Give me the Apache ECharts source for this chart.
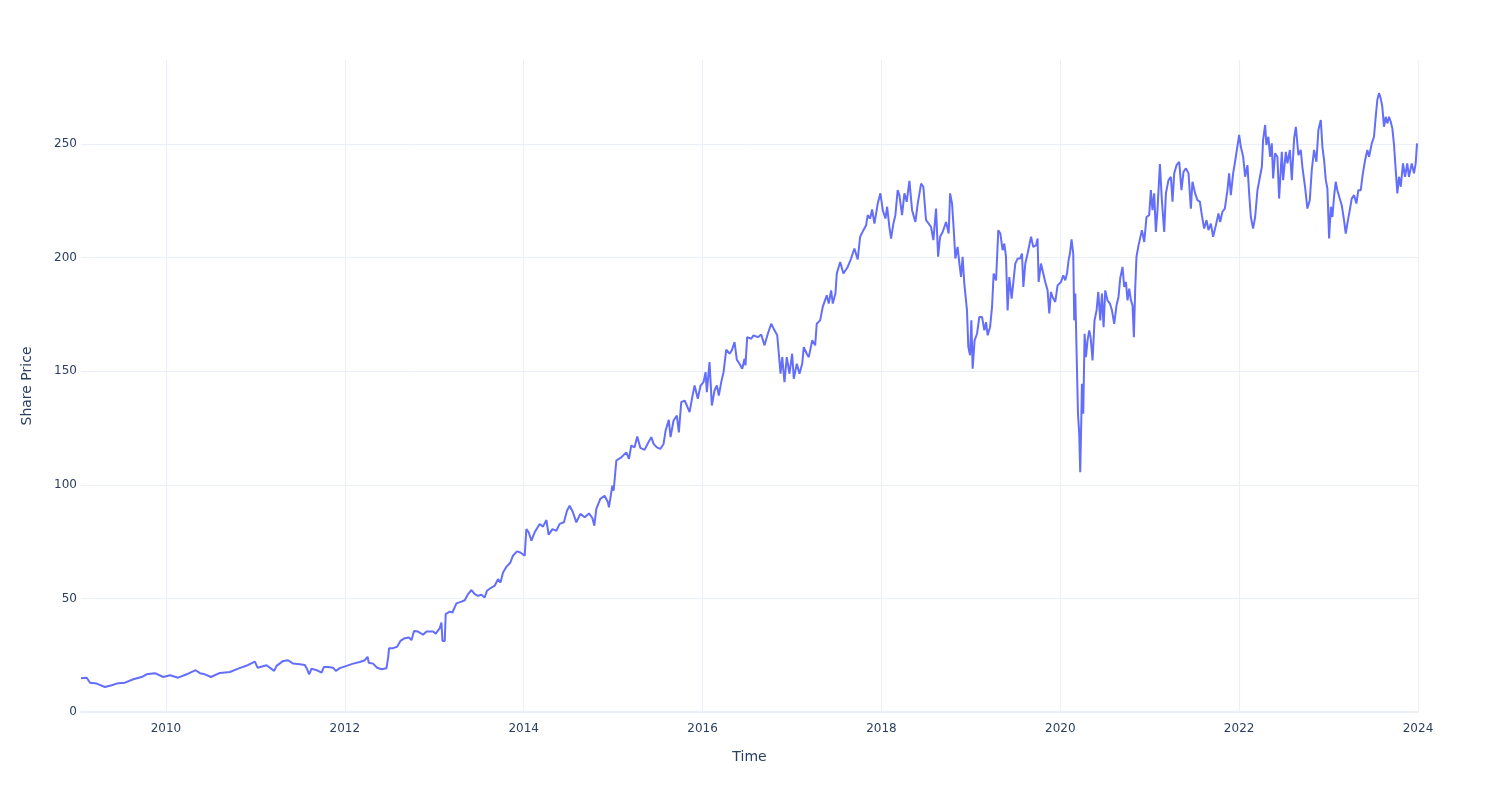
<!DOCTYPE html>
<html>
<head>
<meta charset="utf-8">
<script src="https://cdn.jsdelivr.net/npm/echarts@6/dist/echarts.min.js"></script>
<style>
html,body{margin:0;padding:0;background:#fff;}
#chart{width:1500px;height:800px;}
</style>
</head>
<body>
<div id="chart"></div>
<script>
// Time expressed as decimal years
const years = [
2009.050,2009.114,2009.151,2009.226,2009.318,2009.393,2009.467,2009.542,2009.635,2009.728,2009.784,2009.877,2009.970,
2010.045,2010.137,2010.231,2010.332,2010.380,2010.436,2010.503,2010.603,2010.715,2010.808,2010.920,2010.994,
2011.025,2011.125,2011.210,2011.237,2011.311,2011.366,2011.422,2011.497,2011.553,2011.579,2011.601,2011.628,2011.684,
2011.740,2011.765,2011.813,2011.869,2011.899,2011.944,
2012.019,2012.093,2012.168,2012.223,2012.254,2012.268,2012.316,2012.361,2012.410,2012.466,2012.484,2012.495,2012.540,
2012.584,2012.622,2012.670,2012.718,2012.745,2012.774,2012.819,2012.875,2012.913,2012.987,
2013.017,2013.061,2013.080,2013.092,2013.117,2013.128,2013.173,2013.203,2013.248,2013.304,2013.341,2013.378,2013.416,
2013.453,2013.489,2013.527,2013.564,2013.590,2013.639,2013.676,2013.713,2013.740,2013.769,2013.807,2013.851,2013.880,
2013.925,2013.963,
2014.011,2014.030,2014.056,2014.086,2014.123,2014.179,2014.216,2014.254,2014.279,2014.321,2014.365,2014.402,2014.450,
2014.484,2014.514,2014.551,2014.589,2014.634,2014.682,2014.730,2014.768,2014.790,2014.812,2014.857,2014.905,2014.942,
2014.953,2014.991,
2015.006,2015.036,2015.092,2015.147,2015.177,2015.203,2015.240,2015.270,2015.304,2015.352,2015.389,2015.427,2015.453,
2015.489,2015.527,2015.564,2015.587,2015.623,2015.642,2015.676,2015.713,2015.735,2015.762,2015.799,2015.825,2015.855,
2015.885,2015.911,2015.947,2015.978,
2016.011,2016.034,2016.048,2016.078,2016.104,2016.134,2016.160,2016.182,2016.209,2016.235,2016.265,2016.302,2016.327,
2016.358,2016.383,2016.413,2016.444,2016.469,2016.480,2016.499,2016.544,2016.570,2016.618,2016.656,2016.693,2016.730,
2016.768,2016.804,2016.835,2016.853,2016.872,2016.891,2016.916,2016.942,2016.972,
2017.002,2017.020,2017.054,2017.084,2017.114,2017.132,2017.165,2017.188,2017.226,2017.259,2017.277,2017.315,2017.344,
2017.389,2017.411,2017.438,2017.456,2017.486,2017.501,2017.539,2017.575,2017.623,2017.661,2017.698,2017.735,2017.762,
2017.799,2017.829,2017.847,2017.874,2017.896,2017.922,2017.959,2017.989,
2018.015,2018.045,2018.064,2018.089,2018.108,2018.134,2018.156,2018.182,2018.201,2018.231,2018.257,2018.283,2018.313,
2018.343,2018.380,2018.406,2018.444,2018.469,2018.499,2018.529,2018.555,2018.581,2018.611,2018.634,2018.656,2018.685,
2018.723,2018.752,2018.768,2018.790,2018.808,2018.827,2018.852,2018.872,2018.890,2018.908,2018.927,2018.946,2018.957,
2018.972,2018.991,
2019.006,2019.020,2019.042,2019.069,2019.095,2019.125,2019.151,2019.170,2019.188,2019.215,2019.237,2019.255,2019.282,
2019.307,2019.330,2019.355,2019.374,2019.393,2019.411,2019.430,2019.456,2019.478,2019.497,2019.523,2019.550,2019.572,
2019.587,2019.609,2019.635,2019.673,2019.698,2019.729,2019.746,2019.758,2019.784,2019.810,2019.832,2019.858,2019.877,
2019.896,2019.914,2019.944,2019.970,
2020.008,2020.034,2020.056,2020.075,2020.093,2020.108,2020.126,2020.145,2020.156,2020.168,2020.182,2020.198,2020.212,
2020.223,2020.235,2020.242,2020.257,2020.272,2020.287,2020.305,2020.324,2020.339,2020.361,2020.383,2020.406,2020.425,
2020.447,2020.466,2020.484,2020.503,2020.528,2020.555,2020.578,2020.603,2020.629,2020.651,2020.670,2020.696,2020.715,
2020.734,2020.752,2020.771,2020.790,2020.808,2020.823,2020.838,2020.852,2020.875,2020.913,2020.939,2020.964,2020.994,
2021.013,2021.031,2021.050,2021.069,2021.087,2021.114,2021.136,2021.162,2021.181,2021.210,2021.237,2021.255,2021.274,
2021.300,2021.330,2021.355,2021.378,2021.405,2021.434,2021.460,2021.478,2021.508,2021.534,2021.561,2021.583,2021.609,
2021.635,2021.657,2021.684,2021.709,2021.740,2021.769,2021.788,2021.813,2021.840,2021.869,2021.888,2021.907,2021.933,
2021.963,
2022.000,2022.019,2022.045,2022.067,2022.093,2022.112,2022.131,2022.156,2022.179,2022.205,2022.224,2022.254,2022.268,
2022.291,2022.305,2022.327,2022.346,2022.365,2022.380,2022.402,2022.428,2022.447,2022.477,2022.492,2022.522,2022.540,
2022.567,2022.589,2022.615,2022.634,2022.663,2022.689,2022.707,2022.737,2022.763,2022.790,2022.812,2022.838,2022.864,
2022.886,2022.913,2022.931,2022.950,2022.969,2022.987,
2023.006,2023.025,2023.043,2023.061,2023.080,2023.098,2023.125,2023.147,2023.173,2023.192,2023.210,2023.237,2023.259,
2023.285,2023.311,2023.333,2023.360,2023.378,2023.408,2023.434,2023.453,2023.483,2023.508,2023.527,2023.545,2023.564,
2023.583,2023.601,2023.620,2023.639,2023.657,2023.676,2023.695,2023.713,2023.732,2023.751,2023.769,2023.788,2023.807,
2023.832,2023.855,2023.880,2023.899,2023.930,2023.955,2023.974,2023.989
];

const prices = [
14.9,15.1,12.9,12.5,11.0,11.8,12.7,12.9,14.4,15.4,16.6,17.1,15.4,
16.2,15.1,16.6,18.4,17.1,16.6,15.4,17.2,17.6,19.1,20.7,22.2,
19.5,20.6,18.1,20.3,22.5,22.8,21.3,21.0,20.7,18.8,16.6,19.1,18.4,
17.3,19.8,19.8,19.5,18.1,19.3,
20.3,21.3,22.0,22.8,24.3,21.7,21.3,19.5,18.8,19.3,23.9,28.1,28.1,
28.7,31.3,32.5,32.8,31.6,35.7,35.4,34.0,35.4,35.4,
34.5,36.9,39.4,31.3,31.3,43.1,44.2,43.8,47.8,48.6,49.2,51.9,53.7,
51.9,51.1,51.6,50.4,53.4,54.8,55.6,58.5,57.0,61.4,63.9,65.8,68.8,
70.7,70.2,
68.8,80.5,79.1,75.4,79.1,82.8,81.6,84.5,78.0,80.5,79.8,82.8,83.5,
88.6,90.8,87.9,83.5,87.2,85.7,87.4,85.4,82.0,89.4,93.8,95.2,92.3,
90.1,99.6,
97.4,110.7,112.1,114.3,111.4,117.3,116.5,121.3,116.3,115.4,118.3,121.0,118.0,
116.5,115.8,118.0,123.9,128.6,121.0,128.3,130.5,123.1,136.4,137.1,134.9,132.0,
138.6,143.7,137.9,143.7,
145.2,149.6,140.8,154.0,134.9,141.5,143.7,139.3,145.2,149.6,159.5,157.7,159.2,
162.8,155.1,153.3,151.1,155.5,152.6,165.0,164.3,165.8,165.0,166.2,161.4,166.5,
170.9,168.0,165.8,157.7,148.9,156.2,145.2,156.2,148.9,
157.7,146.7,153.3,148.9,153.3,160.6,157.7,156.2,163.6,161.4,170.9,172.4,178.3,
183.4,179.8,185.6,179.8,184.2,193.0,198.1,193.0,195.9,199.6,204.0,199.2,209.2,
212.1,214.3,218.7,217.2,221.2,215.0,223.8,228.3,
220.9,217.2,222.4,213.5,208.4,215.0,218.7,229.7,227.5,218.7,228.3,224.6,233.8,
220.9,215.7,223.8,232.6,231.2,216.5,215.0,213.5,207.7,221.6,200.4,209.2,211.3,
215.7,210.6,228.3,223.8,212.8,199.6,204.7,197.4,191.5,200.4,188.6,187.8,176.8,
160.6,157.0,
172.4,151.1,163.6,166.5,173.9,173.9,168.0,171.6,165.8,169.4,178.3,193.0,190.0,
212.1,210.6,203.3,206.2,200.4,176.8,191.5,182.0,181.2,197.4,199.6,199.6,201.8,
187.1,197.4,201.8,209.2,204.7,205.4,208.4,189.3,197.4,193.0,189.3,185.6,175.4,
184.9,182.7,180.5,187.8,
189.3,192.2,190.0,193.0,198.9,201.8,208.0,201.8,172.4,184.2,159.2,131.3,122.4,
105.5,128.3,144.5,131.3,166.5,156.2,163.6,168.0,165.0,154.8,172.4,176.8,184.9,
172.4,184.2,169.4,185.6,181.2,179.8,176.8,170.9,179.0,182.7,190.8,195.9,187.1,
189.3,181.2,186.4,181.2,179.0,165.0,186.4,200.4,205.4,212.1,206.9,217.9,218.7,
229.7,220.9,228.3,211.3,220.9,241.2,225.3,211.3,228.3,234.1,235.6,224.6,237.1,
240.7,242.2,229.7,237.8,239.3,237.1,221.6,233.4,228.3,225.3,224.6,218.7,212.8,
216.5,212.1,215.0,209.2,214.3,219.4,215.7,220.2,221.6,229.7,237.1,227.5,237.1,
244.4,
254.0,248.8,244.4,235.6,240.7,228.3,217.9,212.8,217.9,229.7,229.7,240.0,251.8,
258.4,249.6,253.2,244.4,250.3,234.9,245.9,244.4,226.0,246.6,234.1,246.6,241.5,
247.4,234.1,252.5,257.6,245.1,247.4,240.0,231.2,221.6,225.3,238.5,247.4,242.2,
256.2,260.6,248.8,242.9,234.1,230.4,
208.4,222.4,217.9,226.8,233.4,229.7,226.0,223.1,216.5,210.6,215.0,220.9,226.0,
227.5,223.8,229.7,229.7,235.6,242.9,247.4,244.4,250.3,253.2,262.0,269.4,272.4,
270.1,266.4,257.6,262.0,259.1,262.0,259.8,256.9,249.6,238.5,228.3,235.6,231.2,
241.5,235.6,241.5,235.6,241.5,237.1,241.5,250.3
];

const xTitle = 'Time';
const yTitle = 'Share Price';

const seriesData = years.map((y, i) => [y, prices[i]]);

const chart = echarts.init(document.getElementById('chart'), null, {renderer: 'canvas'});
const font = 'DejaVu Sans, Verdana, sans-serif';
chart.setOption({
  animation: false,
  backgroundColor: '#ffffff',
  textStyle: {fontFamily: font},
  grid: {left: 81, right: 82, top: 60, bottom: 88, containLabel: false},
  xAxis: {
    type: 'value',
    min: 2009.05,
    max: 2024,
    splitNumber: 7,
    name: xTitle,
    nameLocation: 'middle',
    nameGap: 38,
    nameTextStyle: {color: '#2a3f5f', fontSize: 14, fontFamily: font},
    axisLine: {show: true, onZero: false, lineStyle: {color: '#EBF0F8', width: 2}},
    axisTick: {show: false},
    axisLabel: {
      color: '#2a3f5f', fontSize: 12, fontFamily: font, margin: 11,
      showMinLabel: false,
      formatter: function (v) { return Math.abs(v - Math.round(v)) < 1e-6 ? String(Math.round(v)) : ''; }
    },
    splitLine: {show: true, showMinLine: false, lineStyle: {color: '#EBF0F8', width: 1}}
  },
  yAxis: {
    type: 'value',
    min: 0,
    max: 287,
    interval: 50,
    name: yTitle,
    nameLocation: 'middle',
    nameGap: 47,
    nameTextStyle: {color: '#2a3f5f', fontSize: 14, fontFamily: font},
    axisLine: {show: false},
    axisTick: {show: false},
    axisLabel: {color: '#2a3f5f', fontSize: 12, fontFamily: font, margin: 4, showMaxLabel: false,
      formatter: function (v) { return v % 50 === 0 ? String(v) : ''; }},
    splitLine: {show: true, showMaxLine: false, lineStyle: {color: '#EBF0F8', width: 1}}
  },
  series: [{
    type: 'line',
    data: seriesData,
    showSymbol: false,
    symbol: 'none',
    sampling: null,
    lineStyle: {color: '#636efa', width: 2},
    itemStyle: {color: '#636efa'},
    emphasis: {disabled: true}
  }]
});
</script>
</body>
</html>
